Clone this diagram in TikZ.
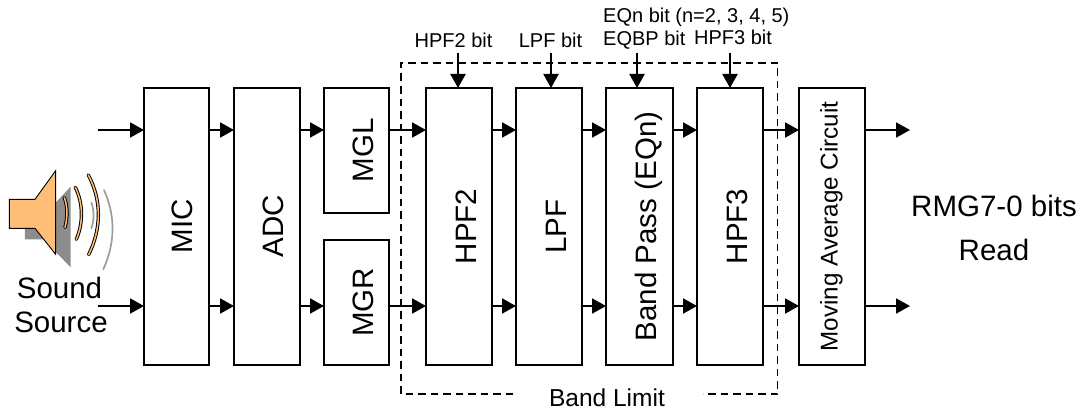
\documentclass[tikz,border=0pt]{standalone}
\usepackage{fontspec}
\setmainfont{Liberation Sans}
\usetikzlibrary{arrows.meta}
\definecolor{spk}{RGB}{255,190,120}
\definecolor{spkgrey}{RGB}{140,140,140}
\tikzset{
  blockbox/.style={draw=black,line width=1.7pt,fill=white,inner sep=0pt,outer sep=0pt,anchor=north west},
  sig/.style={line width=1.9pt,-{Triangle[length=14pt,width=15pt]}},
  bitsig/.style={line width=2.1pt,-{Triangle[length=14pt,width=15pt]}},
  bigtext/.style={font=\fontsize{29.5}{32}\selectfont,inner sep=0pt,anchor=base},
  blocktext/.style={font=\fontsize{29.5}{32}\selectfont,inner sep=0pt,rotate=90,anchor=base},
  smalltext/.style={font=\fontsize{20}{24}\selectfont,inner sep=0pt,anchor=base},
  limit/.style={line width=1.3pt,dash pattern=on 7.5pt off 5pt}
}
\newcommand{\blk}[8]{% name x1 y1 x2 y2 text baseline-offset style
  \node[blockbox,minimum width=#4pt-#2pt,minimum height=#5pt-#3pt] (#1) at (#2,#3) {};
  \node[blocktext,#8] (#1t) at ([xshift=#7pt]#1.center) {#6};
}
\begin{document}
\begin{tikzpicture}[x=1pt,y=-1pt]
\useasboundingbox (0,0) rectangle (1082,412);
\coordinate (dtl) at (401,63);
\coordinate (dtr) at (777.5,63);
\coordinate (dbr) at (777.5,394);
\coordinate (dbl) at (401,394);
\coordinate (gapl) at (513,394);
\coordinate (gapr) at (703,394);
% speaker
\begin{scope}[shift={(0,160)},x=0.3333pt,y=-0.3333pt]
  \fill[spkgrey] (75,195) -- (75,238) -- (130,238) -- (212,322) -- (212,80) -- (170,125) -- cycle;
  \draw[line width=1.7pt,draw=spkgrey!85,line cap=round] (274,128) .. controls (283,150) and (283,180) .. (274,205);
  \draw[line width=1.7pt,draw=spkgrey!85,line cap=round] (312,90) .. controls (348,170) and (345,250) .. (310,328);
  \draw[line width=0.9pt,fill=spk,line join=miter] (28,118) -- (105,118) -- (167,32) -- (167,283) -- (105,205) -- (28,205) -- cycle;
  \draw[line width=3.4pt,black,line cap=round] (193,113) .. controls (203,140) and (203,170) .. (195,202);
  \draw[line width=1.5pt,spk,line cap=round] (193,113) .. controls (203,140) and (203,170) .. (195,202);
  \draw[line width=3.4pt,black,line cap=round] (226,82) .. controls (250,130) and (250,190) .. (229,238);
  \draw[line width=1.5pt,spk,line cap=round] (226,82) .. controls (250,130) and (250,190) .. (229,238);
  \draw[line width=3.4pt,black,line cap=round] (265,45) .. controls (305,120) and (305,205) .. (266,284);
  \draw[line width=1.5pt,spk,line cap=round] (265,45) .. controls (305,120) and (305,205) .. (266,284);
\end{scope}
\node[bigtext] (snd) at (59.5,298) {Sound};
\node[bigtext] (src) at (61,332) {Source};
% blocks
\blk{mic}{144}{88}{209}{365}{MIC}{15.5}{}
\blk{adc}{234}{88}{300}{365}{ADC}{16}{}
\blk{mgl}{324}{88}{389}{213}{MGL}{16.5}{}
\blk{mgr}{324}{240}{389}{365}{MGR}{16.5}{}
\blk{hpfb}{426}{88}{492}{365}{HPF2}{17}{}
\blk{lpf}{516}{88}{582}{365}{LPF}{17}{}
\blk{bp}{606}{88}{673}{365}{Band Pass (EQn)}{16.5}{}
\blk{hpfc}{697}{88}{763}{365}{HPF3}{17}{}
\blk{mav}{799}{88}{865}{365}{Moving Average Circuit}{5.5}{font=\fontsize{24.2}{28}\selectfont}
% free ends
\coordinate (inu) at (98,130);
\coordinate (ind) at (98,306);
\coordinate (outu) at (910,130);
\coordinate (outd) at (910,306);
% signal arrows
\draw[sig] (inu) -- (inu-|mic.west);
\draw[sig] (ind) -- (ind-|mic.west);
\foreach \a/\b/\yy in {mic/adc/130,adc/mgl/130,mgl/hpfb/130,hpfb/lpf/130,lpf/bp/130,bp/hpfc/130,hpfc/mav/130,mav/outu/130,
  mic/adc/306,adc/mgr/306,mgr/hpfb/306,hpfb/lpf/306,lpf/bp/306,bp/hpfc/306,hpfc/mav/306,mav/outd/306}{
  \draw[sig] ([xshift=-1.5pt]\a.east|-0,\yy) -- (\b.west|-0,\yy);
}
% dashed band limit
\draw[limit] (gapl) -- (dbl) -- (dtl) -- (dtr) -- (dbr) -- (gapr);
\node[font=\fontsize{24.5}{28}\selectfont,inner sep=0pt,anchor=base] (bl) at (607,406) {Band Limit};
% bit labels and arrows
\node[smalltext] (lhpfb) at (453.5,48) {HPF2 bit};
\node[smalltext] (llpf) at (550.5,48) {LPF bit};
\node[smalltext,anchor=base west] (leqn) at (603,23) {EQn bit (n=2, 3, 4, 5)};
\node[smalltext,anchor=base west] (leqbp) at (603,46) {EQBP bit};
\node[smalltext] (lhpfc) at (733,45) {HPF3 bit};
\coordinate (ta) at (458,53);
\coordinate (tb) at (551,53);
\coordinate (tc) at (637,53);
\coordinate (td) at (730,53);
\draw[bitsig] (ta) -- (ta|-hpfb.north);
\draw[bitsig] (tb) -- (tb|-lpf.north);
\draw[bitsig] (tc) -- (tc|-bp.north);
\draw[bitsig] (td) -- (td|-hpfc.north);
% output
\node[bigtext] (rmg) at (994,216) {RMG7-0 bits};
\node[bigtext] (rd) at (994,260) {Read};
\end{tikzpicture}
\end{document}
